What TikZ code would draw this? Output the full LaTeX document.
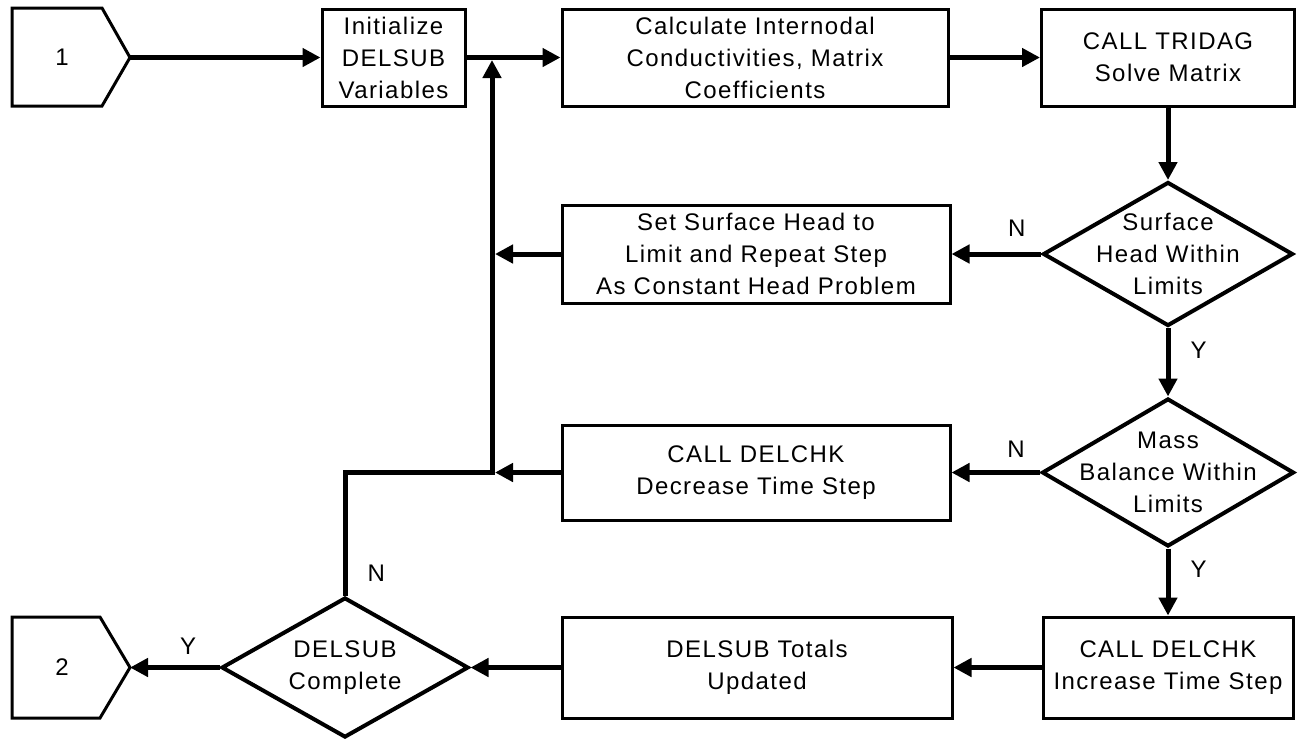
\documentclass[tikz,border=0pt]{standalone}
\usepackage{fontspec}
\setmainfont[LetterSpace=6]{Liberation Sans}
\usetikzlibrary{arrows.meta, shapes.geometric}

\begin{document}
\begin{tikzpicture}[x=1pt, y=-1pt, >={Triangle[length=18pt, width=18pt]},
  font=\fontsize{24}{32}\selectfont,
  box/.style={rectangle, draw, line width=3pt, align=center, inner sep=2pt},
  dec/.style={diamond, draw, line width=4pt, inner sep=0pt},
  lbl/.style={inner sep=0pt},
  flow/.style={->, line width=5pt}]
  \useasboundingbox (0,0) rectangle (1300,740);

  % off-page connectors
  \draw[line width=3pt] (12,8) -- (102,8) -- (130,57.5) -- (102,106) -- (12,106) -- cycle;
  \draw[line width=3pt] (12,617) -- (100,617) -- (130,667.5) -- (100,718) -- (12,718) -- cycle;
  \node (one) at (62,57.5) {1};
  \node (two) at (62,667.5) {2};
  \coordinate (c1tip) at (130,57.5);
  \coordinate (c2tip) at (130,667.5);

  % process boxes
  \node[box, minimum width=143pt, minimum height=97pt] (init) at (393.5,57.5) {Initialize\\DELSUB\\Variables};
  \node[box, minimum width=386pt, minimum height=97pt] (calc) at (755,57.5) {Calculate Internodal\\Conductivities, Matrix\\Coefficients};
  \node[box, minimum width=253pt, minimum height=97pt] (tridag) at (1168,57.5) {CALL TRIDAG\\Solve Matrix};
  \node[box, minimum width=388pt, minimum height=98pt] (setsurf) at (756,254) {Set Surface Head to\\Limit and Repeat Step\\As Constant Head Problem};
  \node[box, minimum width=388pt, minimum height=95pt] (decr) at (756,472.5) {CALL DELCHK\\Decrease Time Step};
  \node[box, minimum width=390pt, minimum height=101pt] (totals) at (757,667.5) {DELSUB Totals\\Updated};
  \node[box, minimum width=250pt, minimum height=101pt] (incr) at (1168,667.5) {CALL DELCHK\\Increase Time Step};

  % decisions
  \node[dec, minimum width=250pt, minimum height=144pt,
    label={[align=center]center:Surface\\Head Within\\Limits}] (surf) at (1168,254) {};
  \node[dec, minimum width=252pt, minimum height=148pt,
    label={[align=center]center:Mass\\Balance Within\\Limits}] (mass) at (1168,472.5) {};
  \node[dec, minimum width=247pt, minimum height=140pt,
    label={[align=center]center:DELSUB\\Complete}] (done) at (345,667.5) {};

  % return line
  \coordinate (corner) at (345,472.5);
  \coordinate (join) at (492,472.5);
  \coordinate (top) at (492,60);
  \coordinate (jA) at (495,254);
  \coordinate (jB) at (495,472.5);

  % flow
  \draw[flow] (c1tip) -- (init.west);
  \draw[flow] (init.east) -- (calc.west);
  \draw[flow] (calc.east) -- (tridag.west);
  \draw[flow] (tridag.south) -- (surf.north);
  \draw[flow] (surf.west) -- node[lbl, pos=0.27, above=15pt] {N} (setsurf.east);
  \draw[flow] (setsurf.west) -- (jA);
  \draw[flow] (surf.south) -- node[lbl, pos=0.33, right=20pt] {Y} (mass.north);
  \draw[flow] (mass.west) -- node[lbl, pos=0.27, above=13pt] {N} (decr.east);
  \draw[flow] (decr.west) -- (jB);
  \draw[flow] (mass.south) -- node[lbl, pos=0.31, right=20pt] {Y} (incr.north);
  \draw[flow] (incr.west) -- (totals.east);
  \draw[flow] (totals.west) -- (done.east);
  \draw[flow] (done.west) -- node[lbl, pos=0.35, above=11pt] {Y} (c2tip);
  \draw[flow] (done.north) -- node[lbl, pos=0.18, right=20pt] {N} (corner) -- (join) -- (top);
\end{tikzpicture}
\end{document}
